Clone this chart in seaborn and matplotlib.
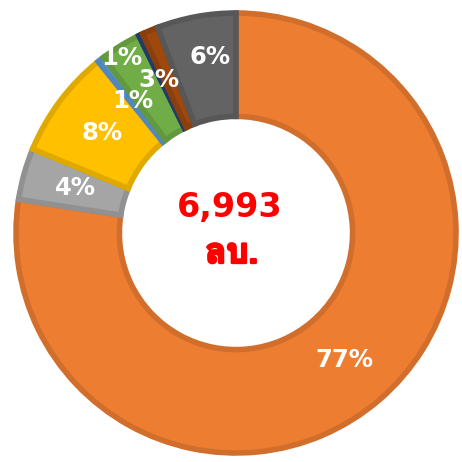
import matplotlib
matplotlib.use("Agg")
import numpy as np
import matplotlib.pyplot as plt
import matplotlib.colors as mcolors
import matplotlib.patheffects as pe
import seaborn as sns
from matplotlib import font_manager
from matplotlib.ft2font import FT2Font

# data (share of total, %)
categories = ["A", "B", "C", "D", "E", "F", "G", "H"]
shares = [77.6, 3.8, 8.0, 0.5, 3.0, 0.3, 1.2, 5.8]
labels = ["77%", "4%", "8%", "1%", "3%", "", "1%", "6%"]
colors = ["#ED7D31", "#A5A5A5", "#FFC000", "#5B9BD5",
          "#70AD47", "#264478", "#9E480E", "#636363"]
total_text = "6,993"
unit_text = "ลบ."


def find_thai_font():
    # pick any installed family that has Thai glyphs, bold preferred
    found = None
    for f in font_manager.fontManager.ttflist:
        try:
            if 0x0E25 in FT2Font(f.fname).get_charmap():
                if f.weight in ("bold", 700):
                    return f.name
                found = found or f.name
        except Exception:
            pass
    return found or "DejaVu Sans"


def darker(c, k=0.88):
    r, g, b = mcolors.to_rgb(c)
    return (r * k, g * k, b * k)


sns.set_theme(style="white")
plt.rcParams["font.family"] = ["DejaVu Sans"]
thai_font = find_thai_font()

fig = plt.figure(figsize=(4.62, 4.62), dpi=100)
ax = fig.add_axes([0, 0, 1, 1])

wedges, _ = ax.pie(shares, colors=colors, startangle=90, counterclock=False,
                   radius=1.0, wedgeprops=dict(width=0.47, linewidth=4))
for w, c in zip(wedges, colors):
    w.set_edgecolor(darker(c))

# label placement: default at ring middle, a couple moved like the original
overrides = {6: (-10.0, 0.95), 4: (5.0, 0.78), 7: (2.0, 0.81)}
angle = 0.0
total = sum(shares)
for i, (s, lab) in enumerate(zip(shares, labels)):
    mid = angle + s / total * 360 / 2
    angle += s / total * 360
    if not lab:
        continue
    shift, r = overrides.get(i, (0.0, 0.76))
    th = np.deg2rad(mid + shift)
    ax.text(r * np.sin(th), r * np.cos(th), lab, ha="center", va="center",
            color="white", fontsize=17.5, fontweight="bold")

ax.text(-0.03, 0.115, total_text, ha="center", va="center", color="#FF0000",
        fontsize=24, fontweight="bold")
ax.text(-0.02, -0.095, unit_text, ha="center", va="center", color="#FF0000",
        fontsize=25, fontweight="bold", family=[thai_font, "DejaVu Sans"],
        path_effects=[pe.withStroke(linewidth=1.8, foreground="#FF0000")])

ax.set_xlim(-236 / 220, 226 / 220)
ax.set_ylim(-229 / 220, 233 / 220)
ax.set_aspect("equal")
ax.axis("off")

fig.savefig("out.png", dpi=100, facecolor="white")
